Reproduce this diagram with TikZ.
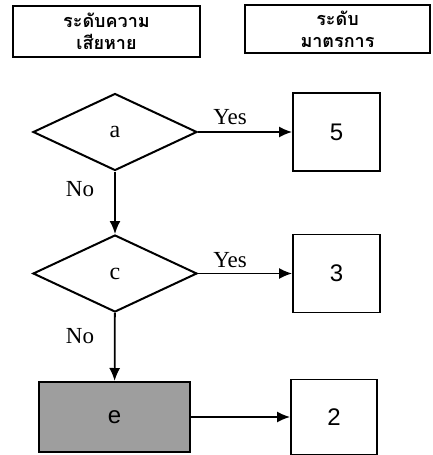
\documentclass[tikz,border=0pt]{standalone}
\usepackage{fontspec}
\setmainfont{Liberation Serif}
\newfontfamily\thaifont[Script=Thai]{Loma}
\newfontfamily\arialfont{Liberation Sans}
\usepackage{tikz}
\usetikzlibrary{arrows.meta,positioning,shapes.geometric}
\tikzset{
  hdrbox/.style={draw, rectangle, line width=2.4pt, inner sep=0pt, align=center,
    font=\thaifont\bfseries\fontsize{18}{22}\selectfont},
  decbox/.style={draw, diamond, line width=2pt, inner sep=0pt,
    minimum width=164pt, minimum height=77pt, font=\fontsize{24}{28}\selectfont},
  levbox/.style={draw, rectangle, line width=1.8pt, inner sep=0pt,
    minimum width=87pt, minimum height=78pt, font=\arialfont\fontsize{24}{28}\selectfont},
  actbox/.style={draw, rectangle, line width=2pt, inner sep=0pt, fill=black!38,
    minimum width=151pt, minimum height=70pt, font=\arialfont\fontsize{24}{28}\selectfont},
  flowarrow/.style={-{Latex[length=13pt,width=11pt]}, line width=1.8pt},
  flowlabel/.style={font=\fontsize{23}{27}\selectfont},
}
\begin{document}
\begin{tikzpicture}[x=1pt, y=-1pt]
  \useasboundingbox (0,0) rectangle (432,455);
  % header boxes
  \node[hdrbox, minimum width=187pt, minimum height=51pt] (hdamage) at (106.5,31.5)
    {ระดับความ\\เสียหาย};
  \node[hdrbox, minimum width=185pt, minimum height=48pt] (hmeasure) at (337.5,29)
    {ระดับ\\มาตรการ};

  % decisions and levels
  \node[decbox] (deca) at (115,132) {a};
  \node[decbox] (decc) at (115,273.5) {c};
  \node[actbox] (acte) at (114.5,417) {e};
  \node[levbox] (lev5) at (336.5,132) {5};
  \node[levbox] (lev3) at (336.5,273.5) {3};
  \node[levbox, minimum width=86pt, minimum height=75pt] (lev2) at (334,417) {2};

  \draw[flowarrow] (deca) -- (lev5);
  \draw[flowarrow] (decc) -- (lev3);
  \draw[flowarrow] (acte) -- (lev2);
  \draw[flowarrow] (deca) -- (decc);
  \draw[flowarrow] (decc) -- (acte);

  \node[flowlabel] (yesa) at (230,117) {Yes};
  \node[flowlabel] (yesc) at (230,260) {Yes};
  \node[flowlabel] (noa) at (80,189) {No};
  \node[flowlabel] (noc) at (80,336) {No};
\end{tikzpicture}
\end{document}
